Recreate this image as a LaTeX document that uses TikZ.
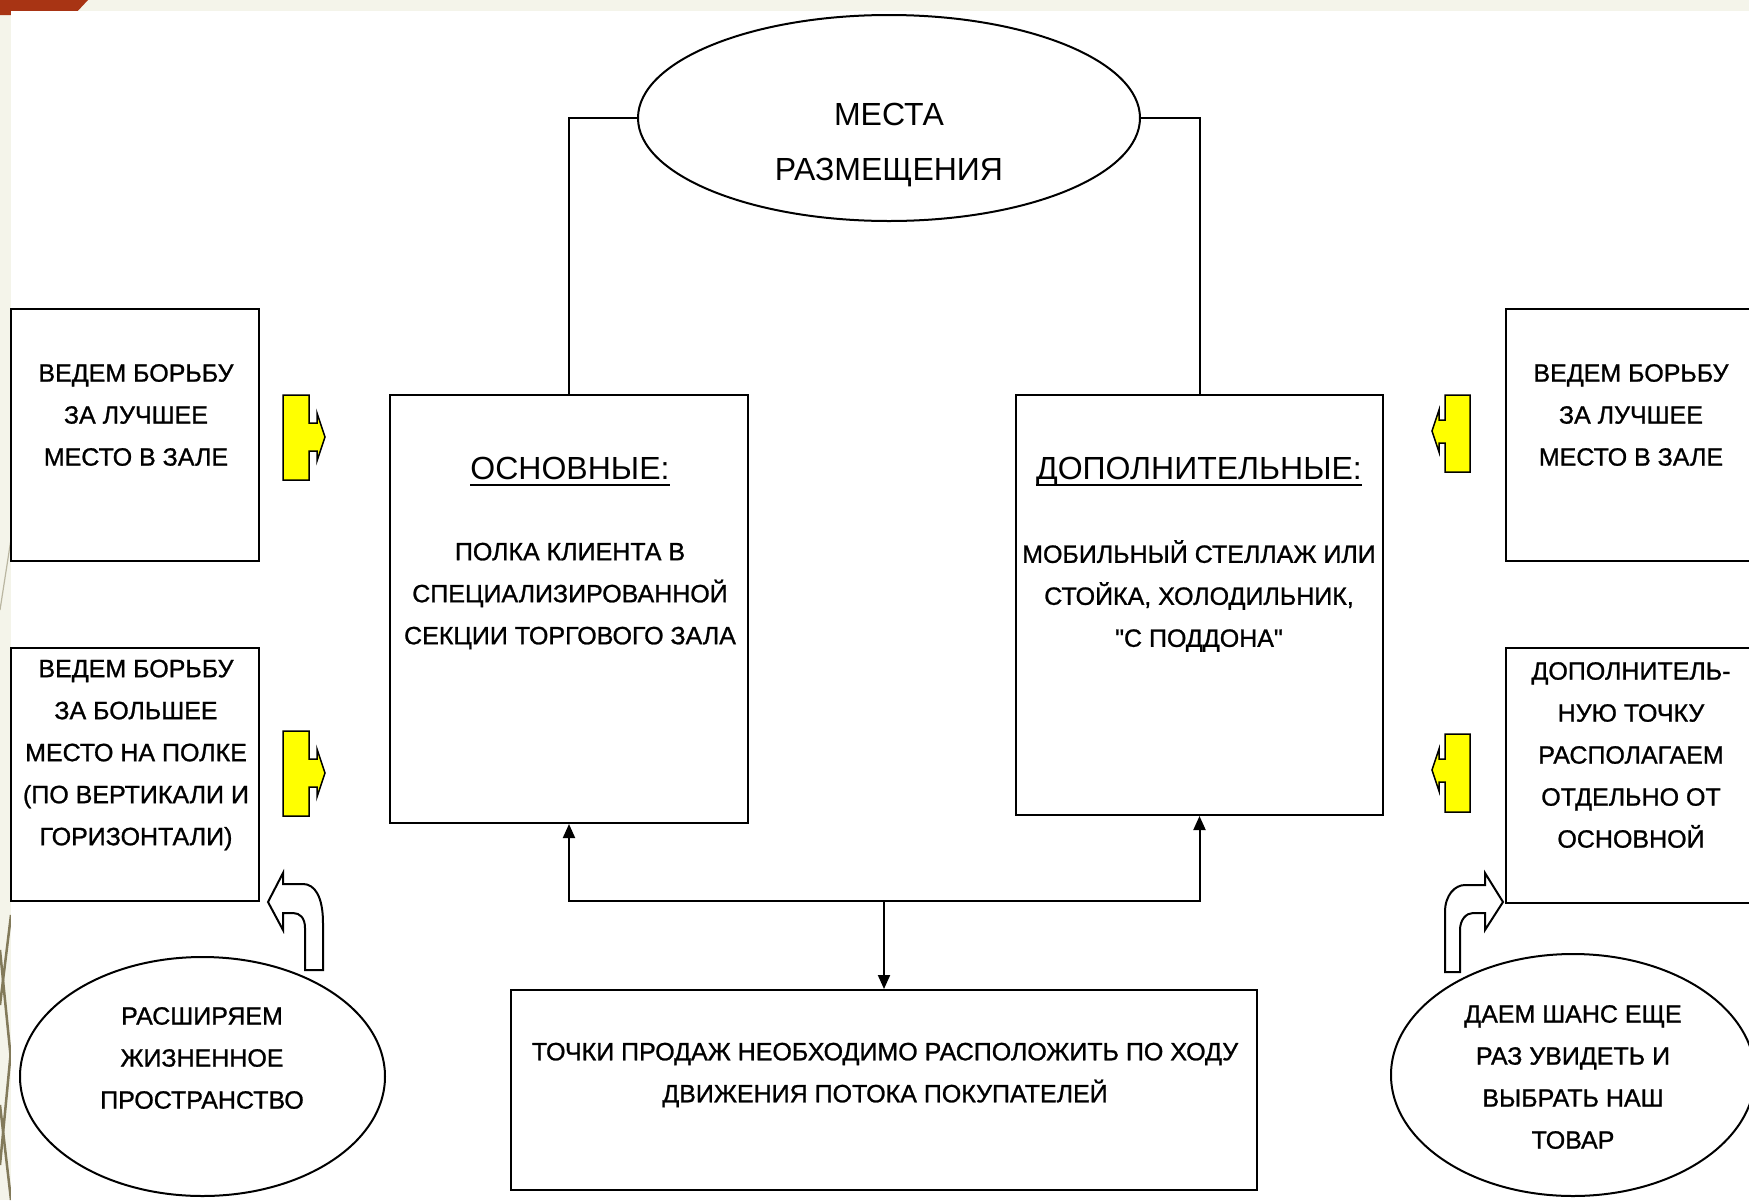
\documentclass[tikz,border=0pt]{standalone}
\usepackage{fontspec}
\setmainfont{Liberation Sans}
\newfontfamily\mainf{Liberation Sans}
\newfontfamily\boldishf{Liberation Sans}[FakeBold=1]
\usetikzlibrary{shapes.geometric,arrows.meta}
\definecolor{cream}{RGB}{244,244,234}
\definecolor{redc}{RGB}{168,52,20}
\definecolor{olive}{RGB}{130,122,90}
\definecolor{yel}{RGB}{255,255,0}
\begin{document}
\begin{tikzpicture}[x=1pt,y=-1pt,
  rbox/.style={draw,line width=2pt,inner sep=0pt,fill=white},
  ell/.style={ellipse,draw,line width=2pt,inner sep=0pt,fill=white},
  txt/.style={font=\boldishf\fontsize{25}{42}\selectfont,align=center,inner sep=0pt},
  head/.style={font=\mainf\fontsize{32}{55}\selectfont,align=center,inner sep=0pt,text depth=0pt},
  conn/.style={line width=2pt},
  arr/.style={conn,-{Triangle[length=14pt,width=12pt]}},
  ul/.style={line width=2pt},
  yarrow/.style={fill=yel,draw=black,line width=1.5pt,line join=miter},
  carrow/.style={fill=white,draw=black,line width=2pt,line join=miter},
  deco/.style={olive,line width=2.5pt}]
\useasboundingbox (0,0) rectangle (1749,1200);
\begin{scope}
\clip (0,0) rectangle (1749,1200);
% background
\fill[cream] (0,0) rectangle (1749,1200);
\draw[deco,line width=1.2pt,opacity=0.5] (14,520) -- (0,610);
\draw[deco] (11,915) -- (0,1005);
\draw[deco] (0,950) -- (11,1060);
\draw[deco] (11,1050) -- (0,1165);
\draw[deco] (0,1105) -- (11,1200);
\fill[redc] (0,0) -- (88,0) -- (74,15) -- (0,15) -- cycle;
\fill[white] (11,11) rectangle (1749,1200);

% boxes
\node[rbox,minimum width=248pt,minimum height=252pt] (lt) at (135,435) {};
\node[rbox,minimum width=248pt,minimum height=253pt] (lm) at (135,774.5) {};
\node[rbox,minimum width=358pt,minimum height=428pt] (osn) at (569,609) {};
\node[rbox,minimum width=367pt,minimum height=420pt] (dop) at (1199.5,605) {};
\node[rbox,minimum width=264pt,minimum height=252pt] (rt) at (1638,435) {};
\node[rbox,minimum width=264pt,minimum height=255pt] (rm) at (1638,775.5) {};
\node[rbox,minimum width=746pt,minimum height=200pt] (bot) at (884,1090) {};
\node[ell,minimum width=502pt,minimum height=206pt] (top) at (889,118) {};

% connectors
\draw[conn] (top.west) -| (osn.north);
\draw[conn] (top.east) -| (dop.north);
\coordinate (j) at (884,901);
\draw[arr] (j) -| (osn.south);
\draw[arr] (j) -| (dop.south);
\draw[arr] (j) -- (bot.north);

% yellow arrows
\draw[yarrow] (283,395) -- (309,395) -- (309,423) -- (317,423) -- (317,413) -- (325,437) -- (317,461) -- (317,451) -- (309,451) -- (309,480) -- (283,480) -- cycle;
\draw[yarrow] (283,731) -- (309,731) -- (309,759) -- (317,759) -- (317,749) -- (325,773) -- (317,797) -- (317,787) -- (309,787) -- (309,816) -- (283,816) -- cycle;
\draw[yarrow] (1470,395) -- (1445,395) -- (1445,420) -- (1439,420) -- (1439,410) -- (1432,431) -- (1439,452) -- (1439,443) -- (1445,443) -- (1445,472) -- (1470,472) -- cycle;
\draw[yarrow] (1470,734) -- (1445,734) -- (1445,759) -- (1439,759) -- (1439,749) -- (1432,770) -- (1439,791) -- (1439,782) -- (1445,782) -- (1445,812) -- (1470,812) -- cycle;

% curved arrows
\draw[carrow] (323,970) -- (323,923) .. controls (323,897) and (315,884) .. (303,884) -- (283,884) -- (283,873) -- (268,902) -- (283,930) -- (283,913) -- (293,913) .. controls (300,913) and (305,918) .. (305,928) -- (305,970) -- cycle;
\draw[carrow] (1445,972) -- (1445,912) .. controls (1445,895) and (1455,885) .. (1465,885) -- (1485,885) -- (1485,873) -- (1503,902) -- (1485,930) -- (1485,913) -- (1473,913) .. controls (1466,913) and (1460,920) .. (1460,930) -- (1460,972) -- cycle;

% ellipses at bottom
\node[ell,minimum width=365pt,minimum height=239pt] (le) at (202.5,1076.5) {};
\node[ell,minimum width=364pt,minimum height=242pt] (re) at (1573,1075) {};

% texts
\node[head] (ttop) at (889,142) {МЕСТА\\РАЗМЕЩЕНИЯ};
\node[head] (hosn) at (570,468) {ОСНОВНЫЕ:};
\draw[ul] ([yshift=-6pt]hosn.south west) -- ([yshift=-6pt]hosn.south east);
\node[txt] (tosn) at (570,596) {ПОЛКА КЛИЕНТА В\\СПЕЦИАЛИЗИРОВАННОЙ\\СЕКЦИИ ТОРГОВОГО ЗАЛА};
\node[head] (hdop) at (1199,468) {ДОПОЛНИТЕЛЬНЫЕ:};
\draw[ul] ([yshift=-6pt]hdop.south west) -- ([yshift=-6pt]hdop.south east);
\node[txt] (tdop) at (1199,596) {МОБИЛЬНЫЙ СТЕЛЛАЖ ИЛИ\\СТОЙКА, ХОЛОДИЛЬНИК,\\"С ПОДДОНА"};
\node[txt] (tlt) at (136,415) {ВЕДЕМ БОРЬБУ\\ЗА ЛУЧШЕЕ\\МЕСТО В ЗАЛЕ};
\node[txt] (tlm) at (136,755) {ВЕДЕМ БОРЬБУ\\ЗА БОЛЬШЕЕ\\МЕСТО НА ПОЛКЕ\\(ПО ВЕРТИКАЛИ И\\ГОРИЗОНТАЛИ)};
\node[txt] (trt) at (1631,415) {ВЕДЕМ БОРЬБУ\\ЗА ЛУЧШЕЕ\\МЕСТО В ЗАЛЕ};
\node[txt] (trm) at (1631,755) {ДОПОЛНИТЕЛЬ-\\НУЮ ТОЧКУ\\РАСПОЛАГАЕМ\\ОТДЕЛЬНО ОТ\\ОСНОВНОЙ};
\node[txt] (tbot) at (885,1075) {ТОЧКИ ПРОДАЖ НЕОБХОДИМО РАСПОЛОЖИТЬ ПО ХОДУ\\ДВИЖЕНИЯ ПОТОКА ПОКУПАТЕЛЕЙ};
\node[txt] (tle) at (202,1058) {РАСШИРЯЕМ\\ЖИЗНЕННОЕ\\ПРОСТРАНСТВО};
\node[txt] (tre) at (1573,1077) {ДАЕМ ШАНС ЕЩЕ\\РАЗ УВИДЕТЬ И\\ВЫБРАТЬ НАШ\\ТОВАР};
\end{scope}
\end{tikzpicture}
\end{document}
